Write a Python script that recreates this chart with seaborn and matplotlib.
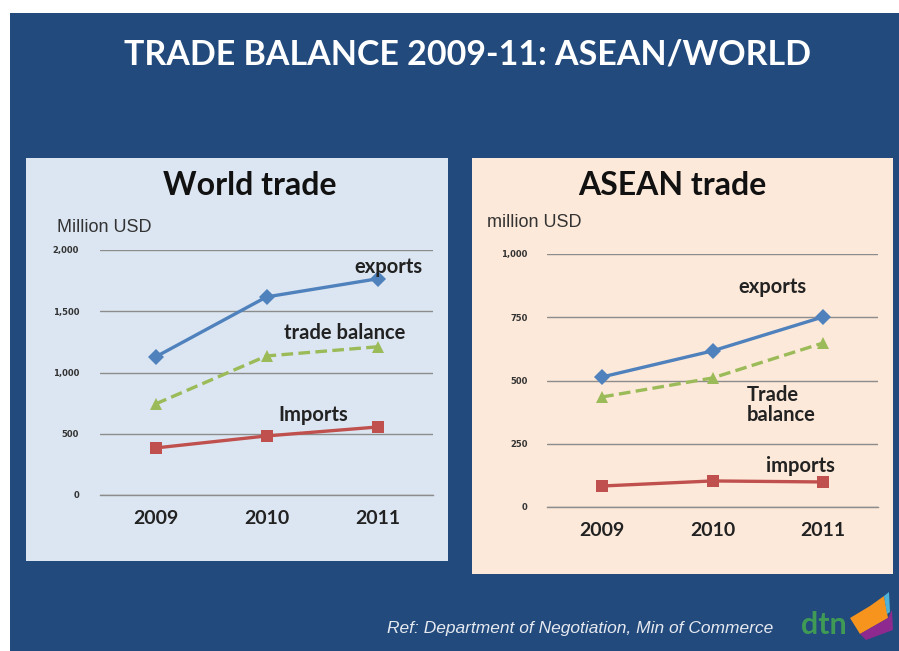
import numpy as np
import pandas as pd
import matplotlib
matplotlib.use("Agg")
import matplotlib.pyplot as plt
from matplotlib.patches import Rectangle, Polygon
import matplotlib.ticker as mticker
import seaborn as sns

# ---- data (million USD) ----
years = ["2009", "2010", "2011"]

world_exports = [1127, 1617, 1765]
world_imports = [384, 482, 555]
world_balance = [743, 1135, 1210]

asean_exports = [514, 617, 751]
asean_imports = [83, 103, 99]
asean_balance = [435, 510, 648]

world_yticks = [0, 500, 1000, 1500, 2000]
asean_yticks = [0, 250, 500, 750, 1000]

series_names = ["exports", "trade balance", "imports"]
palette = {"exports": "#4f81bd", "trade balance": "#9bbb59", "imports": "#c0504d"}
markers = {"exports": "D", "trade balance": "^", "imports": "s"}
dashes = {"exports": "", "trade balance": (3.5, 1.6), "imports": ""}

W, H = 899, 651
SLIDE_BLUE = "#224a7c"

sns.set_theme(style="white")
plt.rcParams["font.family"] = ["Lato", "DejaVu Sans"]

fig = plt.figure(figsize=(W / 100, H / 100), dpi=100)
fig.patch.set_facecolor("white")


def fx(x):
    return x / W


def fy(y):
    return 1 - y / H


def box(x0, y0, x1, y1, color, z=0):
    fig.add_artist(Rectangle((fx(x0), fy(y1)), fx(x1) - fx(x0), fy(y0) - fy(y1),
                             transform=fig.transFigure, facecolor=color,
                             edgecolor="none", zorder=z))


# slide background and the two chart panels
box(10, 13, W, H, SLIDE_BLUE, z=0)
box(26, 158, 448, 561, "#dce6f2", z=1)
box(472, 158, 893, 574, "#fde9d9", z=1)

fig.text(fx(467), fy(55), "TRADE BALANCE 2009-11: ASEAN/WORLD", color="white",
         fontsize=24.5, fontweight="bold", ha="center", va="center", zorder=3)


def long_frame(exports, balance, imports):
    rows = []
    for name, vals in zip(series_names, [exports, balance, imports]):
        for i, v in enumerate(vals):
            rows.append({"pos": i, "year": years[i], "value": v, "series": name})
    return pd.DataFrame(rows)


def draw_panel(rect, df, yticks, ymax, tickpad):
    ax = fig.add_axes(rect, zorder=2)
    ax.set_facecolor("none")
    sns.lineplot(data=df, x="pos", y="value", hue="series", style="series",
                 palette=palette, markers=markers, dashes=dashes,
                 linewidth=2.4, markersize=8.5, markeredgewidth=0,
                 legend=False, ax=ax, zorder=4)
    ax.set_xlim(-0.5, 2.5)
    ax.set_ylim(0, ymax)
    ax.set_xlabel("")
    ax.set_ylabel("")
    for s in ["left", "right", "top"]:
        ax.spines[s].set_visible(False)
    ax.spines["bottom"].set_color("#8c8c8c")
    ax.spines["bottom"].set_linewidth(1.0)
    ax.set_yticks(yticks)
    ax.yaxis.set_major_formatter(mticker.FuncFormatter(lambda v, p: f"{int(v):,}"))
    ax.tick_params(axis="y", length=0, pad=tickpad, labelsize=6, labelcolor="#333333")
    for t in ax.get_yticklabels():
        t.set_fontweight("bold")
        t.set_family(["DejaVu Sans"])
    ax.grid(axis="y", color="#8c8c8c", linewidth=1.0)
    ax.set_axisbelow(True)
    ax.set_xticks([0, 1, 2])
    ax.set_xticklabels(years, fontsize=14, fontweight="bold", color="#222222")
    ax.tick_params(axis="x", length=0, pad=11)
    ax.set_xticks([-0.5, 0.5, 1.5, 2.5], minor=True)
    ax.tick_params(axis="x", which="minor", length=4, width=1.0,
                   color="#8c8c8c", direction="out")
    return ax


world_df = long_frame(world_exports, world_balance, world_imports)
asean_df = long_frame(asean_exports, asean_balance, asean_imports)

ax_w = draw_panel([fx(100), fy(495), fx(433) - fx(100), fy(250) - fy(495)],
                  world_df, world_yticks, 2000, 15)
ax_a = draw_panel([fx(547), fy(507), fx(878) - fx(547), fy(254) - fy(507)],
                  asean_df, asean_yticks, 1000, 14)

# panel headings and units
fig.text(fx(250), fy(185), "World trade", fontsize=23, fontweight="bold",
         color="#111111", ha="center", va="center", zorder=3)
fig.text(fx(672), fy(185), "ASEAN trade", fontsize=23, fontweight="bold",
         color="#111111", ha="center", va="center", zorder=3)
fig.text(fx(57), fy(228), "Million USD", fontsize=13, color="#333333",
         ha="left", va="center", family=["Liberation Sans"], zorder=3)
fig.text(fx(487), fy(222), "million USD", fontsize=13, color="#333333",
         ha="left", va="center", family=["Liberation Sans"], zorder=3)

# series labels inside the plots
lab = dict(fontsize=14.5, fontweight="bold", color="#222222", zorder=5)
ax_w.text(2.1, 1860, "exports", ha="center", va="center", **lab)
ax_w.text(1.7, 1320, "trade balance", ha="center", va="center", **lab)
ax_w.text(1.42, 650, "Imports", ha="center", va="center", **lab)
ax_a.text(1.54, 870, "exports", ha="center", va="center", **lab)
ax_a.text(1.31, 405, "Trade\nbalance", ha="left", va="center", linespacing=1.0, **lab)
ax_a.text(1.8, 162, "imports", ha="center", va="center", **lab)

# footer reference and logo
fig.text(fx(580), fy(628), "Ref: Department of Negotiation, Min of Commerce",
         fontsize=12.5, style="italic", color="#e6e9f0", ha="center", va="center",
         family=["Liberation Sans"], zorder=3)
fig.text(fx(824), fy(625), "dtn", fontsize=22, fontweight="bold", color="#3f9a55",
         ha="center", va="center", zorder=3)
fig.add_artist(Polygon([(fx(850), fy(618)), (fx(870), fy(606)), (fx(884), fy(596)),
                        (fx(888), fy(618)), (fx(860), fy(634))],
                       closed=True, transform=fig.transFigure,
                       facecolor="#f7941d", edgecolor="none", zorder=3))
fig.add_artist(Polygon([(fx(860), fy(634)), (fx(888), fy(618)), (fx(892), fy(610)),
                        (fx(893), fy(630)), (fx(866), fy(640))],
                       closed=True, transform=fig.transFigure,
                       facecolor="#8e2a8f", edgecolor="none", zorder=3))
fig.add_artist(Polygon([(fx(884), fy(596)), (fx(889), fy(592)), (fx(890), fy(612)),
                        (fx(887), fy(614))],
                       closed=True, transform=fig.transFigure,
                       facecolor="#4fb3d9", edgecolor="none", zorder=3))

fig.savefig("out.png", dpi=100, facecolor=fig.get_facecolor())
